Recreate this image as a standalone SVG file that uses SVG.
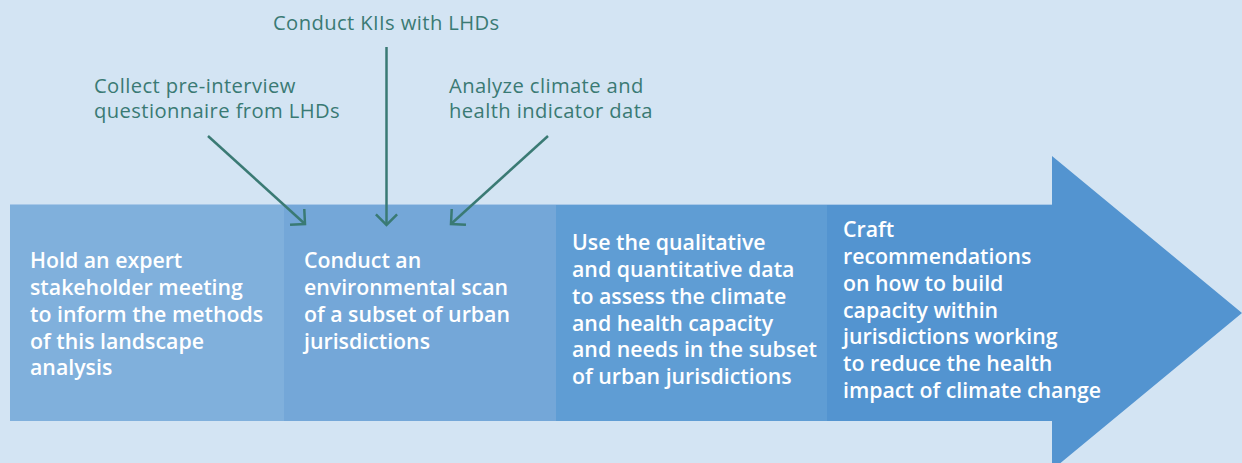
<svg xmlns="http://www.w3.org/2000/svg" width="1242" height="463" viewBox="0 0 1242 463">
<style>
.lbl{font-family:"Open Sans","Noto Sans","Liberation Sans",sans-serif;font-size:20.2px;letter-spacing:0.4px;fill:#3a7a74}
.bt{font-family:"Open Sans","Noto Sans","Liberation Sans",sans-serif;font-size:21.3px;font-weight:600;fill:#ffffff}
.conn{stroke:#3a7a74;stroke-width:2.5;fill:none}
</style>
<defs>
<marker id="ah" markerUnits="userSpaceOnUse" markerWidth="30" markerHeight="30" viewBox="-15 -15 30 30" refX="0" refY="0" orient="auto">
<path d="M-10.6,-10.6 L0,0 L-10.6,10.6" fill="none" stroke="#3a7a74" stroke-width="2.5"/>
</marker>
</defs>
<rect x="0" y="0" width="1242" height="463" fill="#d3e4f3"/>
<g id="step4">
<polygon points="827,204 1052,204 1052,156 1242,313 1052,470 1052,421 827,421" fill="#5394d0"/>
<text class="bt"><tspan x="843" y="237">Craft</tspan><tspan x="843" y="264">recommendations</tspan><tspan x="843" y="291">on how to build</tspan><tspan x="843" y="317.5">capacity within</tspan><tspan x="843" y="344">jurisdictions working</tspan><tspan x="843" y="371">to reduce the health</tspan><tspan x="843" y="398">impact of climate change</tspan></text>
</g>
<g id="step1">
<rect x="10" y="204" width="274" height="217" fill="#80b0dc"/>
<text class="bt"><tspan x="30" y="268">Hold an expert</tspan><tspan x="30" y="295">stakeholder meeting</tspan><tspan x="30" y="322">to inform the methods</tspan><tspan x="30" y="348.5">of this landscape</tspan><tspan x="30" y="375">analysis</tspan></text>
</g>
<g id="step2">
<rect x="284" y="204" width="272" height="217" fill="#74a7d8"/>
<text class="bt"><tspan x="304" y="268">Conduct an</tspan><tspan x="304" y="295">environmental scan</tspan><tspan x="304" y="322">of a subset of urban</tspan><tspan x="304" y="348.5">jurisdictions</tspan></text>
</g>
<g id="step3">
<rect x="556" y="204" width="271" height="217" fill="#5f9dd4"/>
<text class="bt"><tspan x="572" y="250">Use the qualitative</tspan><tspan x="572" y="277">and quantitative data</tspan><tspan x="572" y="303.5">to assess the climate</tspan><tspan x="572" y="330.5">and health capacity</tspan><tspan x="572" y="357">and needs in the subset</tspan><tspan x="572" y="384">of urban jurisdictions</tspan></text>
</g>
<line x1="10" y1="204.5" x2="1052" y2="204.5" stroke="#a8c8e8" stroke-width="1"/>
<g id="input-questionnaire">
<text class="lbl"><tspan x="94" y="92.7">Collect pre-interview</tspan><tspan x="94" y="118.3">questionnaire from LHDs</tspan></text>
</g>
<g id="input-kii">
<text class="lbl" x="273" y="30">Conduct KIIs with LHDs</text>
</g>
<g id="input-data">
<text class="lbl"><tspan x="449" y="92.7">Analyze climate and</tspan><tspan x="449" y="118.3">health indicator data</tspan></text>
</g>
<g id="connectors">
<line class="conn" x1="208" y1="136" x2="305" y2="224" marker-end="url(#ah)"/>
<line class="conn" x1="386.5" y1="47" x2="386.5" y2="225" marker-end="url(#ah)"/>
<line class="conn" x1="548" y1="136" x2="451" y2="224" marker-end="url(#ah)"/>
</g>
</svg>
